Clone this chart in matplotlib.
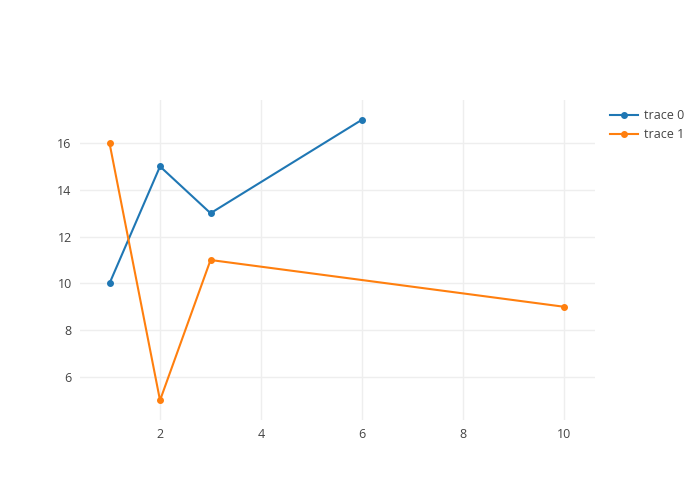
import matplotlib
matplotlib.use('Agg')
import matplotlib.pyplot as plt

plt.rcParams['font.family'] = ['Open Sans', 'DejaVu Sans']

# data
x0 = [1, 2, 3, 6]
y0 = [10, 15, 13, 17]
x1 = [1, 2, 3, 10]
y1 = [16, 5, 11, 9]
xticks = [2, 4, 6, 8, 10]
yticks = [6, 8, 10, 12, 14, 16]

fig = plt.figure(figsize=(7, 5), dpi=100)
ax = fig.add_axes([80 / 700, 0.16, 515 / 700, 0.64])

ax.plot(x0, y0, color='#1f77b4', lw=1.5, marker='o', ms=4, label='trace 0')
ax.plot(x1, y1, color='#ff7f0e', lw=1.5, marker='o', ms=4, label='trace 1')

ax.set_xlim(0.416, 10.61)
ax.set_ylim(4.16, 17.84)
ax.set_xticks(xticks)
ax.set_yticks(yticks)
ax.grid(True, color='#eeeeee', lw=1)
ax.set_axisbelow(True)
for s in ax.spines.values():
    s.set_visible(False)
ax.tick_params(length=0, labelsize=9, colors='#444444', pad=6)

ax.legend(loc='upper left', bbox_to_anchor=(605 / 700, 0.792),
          bbox_transform=fig.transFigure, frameon=False, fontsize=9,
          handlelength=2.2, labelspacing=0.5, labelcolor='#444444',
          borderaxespad=0, handletextpad=0.5)

fig.savefig('out.png', dpi=100)
